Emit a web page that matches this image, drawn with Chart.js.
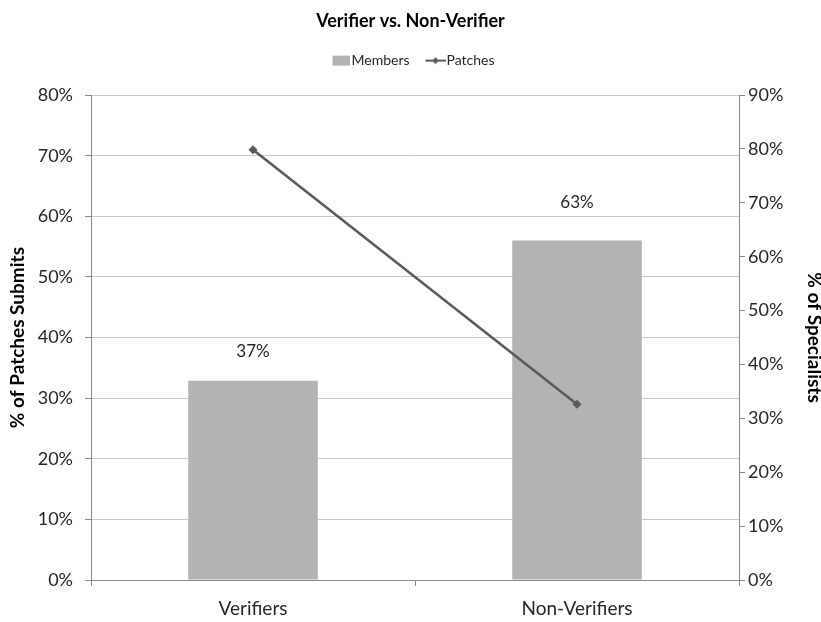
<!DOCTYPE html>
<html>
<head>
<meta charset="utf-8">
<script src="https://cdn.jsdelivr.net/npm/chart.js@4.4.1/dist/chart.umd.min.js"></script>
<style>
  html, body { margin: 0; padding: 0; background: #ffffff; }
  #wrap { width: 821px; height: 622px; }
</style>
</head>
<body>
<div id="wrap"><canvas id="chart" width="821" height="622"></canvas></div>
<script>
// Groups on the category axis
const categories = ['Verifiers', 'Non-Verifiers'];
// Share of specialists in each group (bars, right axis)
const membersPct = [37, 63];
// Share of submitted patches from each group (line, left axis)
const patchesPct = [71, 29];
// Axis ranges
const leftAxisMax = 80;
const rightAxisMax = 90;
const axisStep = 10;

const FONT = "Lato, 'Open Sans', sans-serif";
const BAR_GREY = '#b3b3b3';
const LINE_GREY = '#5a5a5a';
const AXIS_GREY = '#898989';
const GRID_GREY = '#c9c9c9';
const TEXT = '#262626';

// Small canvases used as legend swatches (content pushed to the right edge
// so it sits close to its label)
function swatch(draw) {
  const c = document.createElement('canvas');
  c.width = 30; c.height = 12;
  draw(c.getContext('2d'));
  return c;
}
const barSwatch = swatch(g => { g.fillStyle = BAR_GREY; g.fillRect(12, 1, 18, 10); });
const lineSwatch = swatch(g => {
  g.strokeStyle = LINE_GREY; g.lineWidth = 2;
  g.beginPath(); g.moveTo(10, 6); g.lineTo(30, 6); g.stroke();
  g.fillStyle = LINE_GREY;
  g.beginPath(); g.moveTo(20, 2.5); g.lineTo(23.5, 6); g.lineTo(20, 9.5); g.lineTo(16.5, 6); g.closePath(); g.fill();
});

// Percent labels above the bars
const barLabels = {
  id: 'barLabels',
  afterDatasetsDraw(chart, args, opts) {
    const meta = chart.getDatasetMeta(0);
    const ctx = chart.ctx;
    ctx.save();
    ctx.font = opts.font;
    ctx.fillStyle = opts.color;
    ctx.textAlign = 'center';
    ctx.textBaseline = 'middle';
    meta.data.forEach((bar, i) => {
      ctx.fillText(membersPct[i] + '%', bar.x, bar.y - opts.offsets[i]);
    });
    ctx.restore();
  }
};

// Extra room between the legend row and the plot
const legendGap = {
  id: 'legendGap',
  beforeUpdate(chart, args, opts) {
    const lg = chart.legend;
    if (lg && !lg._gapAdded) {
      const fit = lg.fit;
      lg.fit = function () { fit.call(this); this.height += opts.extra; };
      lg._gapAdded = true;
    }
  }
};

new Chart(document.getElementById('chart'), {
  type: 'bar',
  data: {
    labels: categories,
    datasets: [
      {
        type: 'bar',
        label: 'Members',
        data: membersPct,
        yAxisID: 'y2',
        backgroundColor: BAR_GREY,
        borderWidth: 0,
        categoryPercentage: 1,
        barPercentage: 0.4,
        order: 1
      },
      {
        type: 'line',
        label: 'Patches',
        data: patchesPct,
        yAxisID: 'y',
        borderColor: LINE_GREY,
        borderWidth: 2.5,
        pointStyle: 'rectRot',
        pointRadius: 4.5,
        pointBackgroundColor: LINE_GREY,
        pointBorderColor: LINE_GREY,
        pointBorderWidth: 0,
        tension: 0,
        order: 0
      }
    ]
  },
  options: {
    responsive: false,
    animation: false,
    devicePixelRatio: 1,
    layout: { padding: 0 },
    scales: {
      x: {
        offset: true,
        grid: {
          offset: true,
          drawOnChartArea: false,
          drawTicks: true,
          tickLength: 6,
          tickColor: AXIS_GREY
        },
        border: { color: AXIS_GREY, width: 1 },
        ticks: { color: TEXT, font: { family: FONT, size: 19 }, padding: 11 },
        afterFit(scale) { scale.height = 42; }
      },
      y: {
        position: 'left',
        min: 0,
        max: leftAxisMax,
        ticks: {
          stepSize: axisStep,
          color: TEXT,
          font: { family: FONT, size: 18 },
          padding: 12,
          callback: v => v + '%'
        },
        grid: { color: GRID_GREY, lineWidth: 1, tickLength: 6, tickColor: AXIS_GREY },
        border: { color: AXIS_GREY, width: 1 },
        title: {
          display: true,
          text: '% of Patches Submits',
          color: '#000000',
          font: { family: FONT, size: 19, weight: 'bold', lineHeight: 1 },
          padding: { top: 8, bottom: 0 }
        },
        afterFit(scale) { scale.width = 91; }
      },
      y2: {
        position: 'right',
        min: 0,
        max: rightAxisMax,
        ticks: {
          stepSize: axisStep,
          color: TEXT,
          font: { family: FONT, size: 18 },
          padding: 3,
          callback: v => v + '%'
        },
        grid: { drawOnChartArea: false, tickLength: 6, tickColor: AXIS_GREY },
        border: { color: AXIS_GREY, width: 1 },
        title: {
          display: true,
          text: '% of Specialists',
          color: '#000000',
          font: { family: FONT, size: 19, weight: 'bold', lineHeight: 0.7 },
          padding: { top: 0, bottom: 0 }
        },
        afterFit(scale) { scale.width = 82; }
      }
    },
    plugins: {
      title: {
        display: true,
        text: 'Verifier vs. Non-Verifier',
        color: '#000000',
        font: { family: FONT, size: 18, weight: 'bold' },
        padding: { top: 10, bottom: 10 }
      },
      legend: {
        display: true,
        position: 'top',
        labels: {
          usePointStyle: true,
          pointStyleWidth: 18,
          color: TEXT,
          font: { family: FONT, size: 14 },
          padding: 12,
          generateLabels(chart) {
            return [
              { text: 'Members', pointStyle: barSwatch, datasetIndex: 0, hidden: !chart.isDatasetVisible(0), fontColor: TEXT, lineWidth: 0 },
              { text: 'Patches', pointStyle: lineSwatch, datasetIndex: 1, hidden: !chart.isDatasetVisible(1), fontColor: TEXT, lineWidth: 0 }
            ];
          }
        }
      },
      legendGap: { extra: 17.5 },
      barLabels: { font: "17px " + FONT, color: TEXT, offsets: [29, 38] },
      tooltip: { enabled: true }
    }
  },
  plugins: [barLabels, legendGap]
});
</script>
</body>
</html>
